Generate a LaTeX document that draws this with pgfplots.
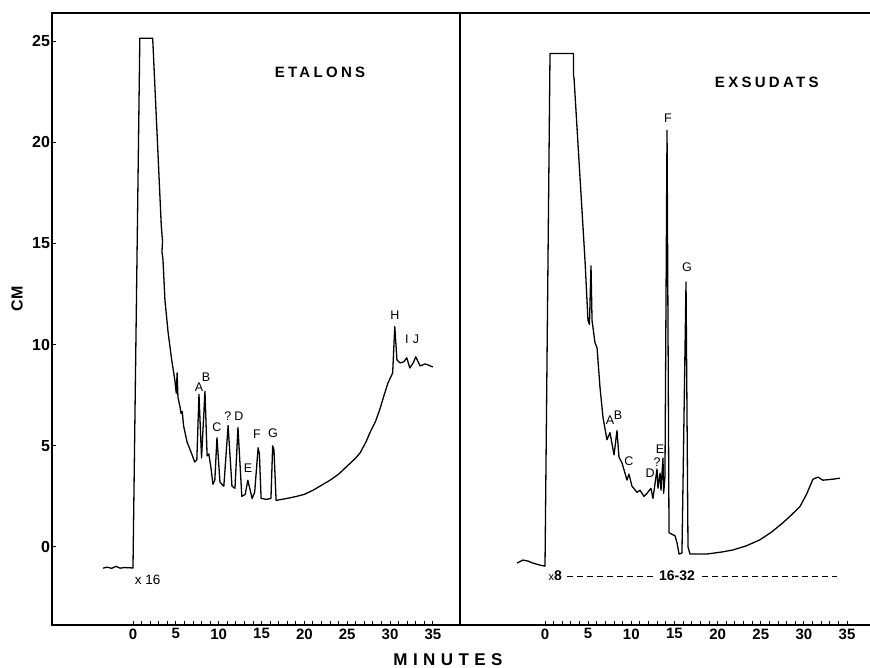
\documentclass[border=0pt]{standalone}
\usepackage{fontspec}
\setmainfont{Liberation Sans}
\newfontfamily\spaced[LetterSpace=22]{Liberation Sans}
\newfontfamily\wide[LetterSpace=32]{Liberation Sans}
\usepackage{pgfplots}
\pgfplotsset{compat=1.18}
\usepackage{pgfplotstable}

% retention time (min) vs signal (cm)
\pgfplotstableread{
x y
-3.5 -1.05
-3.0 -1.00
-2.5 -1.06
-2.0 -0.96
-1.5 -1.05
-1.0 -1.02
0.0 -1.04
0.8 25.15
2.3 25.15
3.3 15.9
3.45 15.1
3.38 14.6
3.5 14.2
3.73 12.2
4.1 10.6
4.5 9.3
4.9 8.2
5.05 7.6
5.15 8.6
5.25 7.4
5.5 6.9
5.6 6.6
5.75 6.7
5.9 6.0
6.3 5.2
6.9 4.55
7.2 4.2
7.45 4.3
7.70 7.55
8.0 4.4
8.4 7.7
8.65 4.5
8.85 4.6
9.1 3.9
9.33 3.1
9.55 3.3
9.8 5.4
10.15 3.2
10.6 3.0
11.1 6.0
11.55 3.0
11.9 2.9
12.25 5.9
12.7 2.5
13.1 2.6
13.4 3.3
13.9 2.4
14.2 2.7
14.6 4.9
14.75 4.6
14.95 2.4
15.6 2.35
16.1 2.4
16.3 5.0
16.45 4.8
16.7 2.3
18.0 2.4
19.1 2.5
20.0 2.6
21.0 2.8
22.0 3.05
23.0 3.3
24.0 3.6
25.0 4.0
26.0 4.4
26.5 4.65
27.2 5.2
27.65 5.65
28.3 6.2
28.8 6.8
29.3 7.5
29.75 8.1
30.3 8.6
30.55 10.9
30.8 9.25
31.15 9.1
31.6 9.15
31.95 9.35
32.3 8.85
32.7 9.1
33.0 9.4
33.5 8.95
34.1 9.05
35.0 8.9
}\etalons

\pgfplotstableread{
x y
-3.25 -0.8
-2.55 -0.65
-1.97 -0.7
-1.4 -0.8
-0.58 -0.9
0.0 -0.95
0.58 24.4
3.13 24.4
3.3 24.4
3.3 23.3
3.36 23.2
4.63 14.2
4.98 11.2
5.15 11.0
5.33 13.9
5.45 11.2
5.79 10.1
6.03 9.85
6.37 7.9
6.72 6.4
7.18 5.3
7.53 5.65
8.0 4.55
8.34 5.75
8.57 4.45
8.92 4.15
9.27 3.65
9.5 3.3
9.73 3.6
10.08 3.0
10.66 2.7
11.0 2.8
11.47 2.5
11.82 2.65
12.28 2.9
12.51 2.4
12.98 3.85
13.09 2.9
13.33 3.65
13.44 2.8
13.67 4.4
13.75 2.65
13.9 3.5
14.14 20.6
14.37 0.7
15.06 0.55
15.3 0.2
15.53 -0.35
15.87 -0.3
16.34 13.1
16.57 0.0
16.8 -0.35
18.77 -0.35
20.5 -0.25
21.78 -0.15
23.3 0.05
24.9 0.35
26.3 0.75
27.58 1.2
28.6 1.6
29.55 2.0
30.3 2.6
31.05 3.35
31.63 3.45
32.2 3.3
33.37 3.35
34.18 3.4
}\exsudats

\tikzset{
  trace/.style={black, line width=1.3pt, line join=round},
  pk/.style={font=\fontsize{12.5}{13}\selectfont},
}
\pgfplotsset{
  chroma/.style={
    scale only axis, height=612pt,
    ymin=-3.86, ymax=26.4,
    axis line style={line width=1.8pt},
    xtick={0,5,...,35}, minor xtick={0,...,35},
    xtick pos=bottom, ytick pos=left,
    tick align=inside,
    major tick length=4pt, minor tick length=4pt,
    every major tick/.append style={black, line width=0.9pt},
    every minor tick/.append style={black, line width=0.9pt},
    xticklabel style={font=\fontsize{15}{16}\selectfont\bfseries},
    yticklabel style={font=\fontsize{16}{17}\selectfont\bfseries, xshift=1.5pt},
    /pgf/number format/assume math mode=true,
    clip=false,
  },
}

\begin{document}
\begin{tikzpicture}
\useasboundingbox (0,0) rectangle (870pt,668pt);

\begin{axis}[chroma,
  at={(52pt,43pt)}, anchor=south west, width=408pt,
  xmin=-9.45, xmax=38.16,
  ytick={0,5,...,25},
]
\addplot[trace] table {\etalons};
\node[pk] at (axis cs:7.70,7.92) {A};
\node[pk] at (axis cs:8.52,8.37) {B};
\node[pk] at (axis cs:9.80,5.94) {C};
\node[pk] at (axis cs:11.08,6.49) {?};
\node[pk] at (axis cs:12.37,6.44) {D};
\node[pk] at (axis cs:13.42,3.91) {E};
\node[pk] at (axis cs:14.47,5.59) {F};
\node[pk] at (axis cs:16.34,5.64) {G};
\node[pk] at (axis cs:30.57,11.44) {H};
\node[pk] at (axis cs:31.97,10.25) {I};
\node[pk] at (axis cs:33.02,10.25) {J};
\node[pk, font=\fontsize{13.5}{14}\selectfont] at (axis cs:1.7,-1.65) {x 16};
\node[font=\fontsize{15}{16}\selectfont\spaced\bfseries] at (axis cs:21.82,23.47) {ETALONS};
\end{axis}

\begin{axis}[chroma,
  at={(460pt,43pt)}, anchor=south west, width=410pt,
  xmin=-9.85, xmax=37.66,
  axis x line*=box, axis y line*=left,
  ytick=\empty,
]
\addplot[trace] table {\exsudats};
\addplot[black, line width=1.2pt, dash pattern=on 6pt off 4pt] coordinates {(2.55,-1.45) (12.5,-1.45)};
\addplot[black, line width=1.2pt, dash pattern=on 6pt off 4pt] coordinates {(18.2,-1.45) (33.8,-1.45)};
\node[pk] at (axis cs:7.53,6.29) {A};
\node[pk] at (axis cs:8.46,6.53) {B};
\node[pk] at (axis cs:9.73,4.26) {C};
\node[pk] at (axis cs:12.17,3.66) {D};
\node[pk] at (axis cs:12.98,4.21) {?};
\node[pk] at (axis cs:13.33,4.85) {E};
\node[pk] at (axis cs:14.25,21.19) {F};
\node[pk] at (axis cs:16.45,13.81) {G};
\node[font=\fontsize{14}{15}\selectfont] at (axis cs:1.2,-1.44) {{\fontsize{11}{12}\selectfont x}\textbf{8}};
\node[font=\fontsize{14}{15}\selectfont\bfseries] at (axis cs:15.3,-1.44) {16-32};
\node[font=\fontsize{15}{16}\selectfont\spaced\bfseries] at (axis cs:25.7,22.97) {EXSUDATS};
\end{axis}

\node[rotate=90, font=\fontsize{16}{17}\selectfont\bfseries] at (17pt,369pt) {CM};
\node[font=\fontsize{17}{18}\selectfont\wide\bfseries] at (448pt,8pt) {MINUTES};
\end{tikzpicture}
\end{document}
